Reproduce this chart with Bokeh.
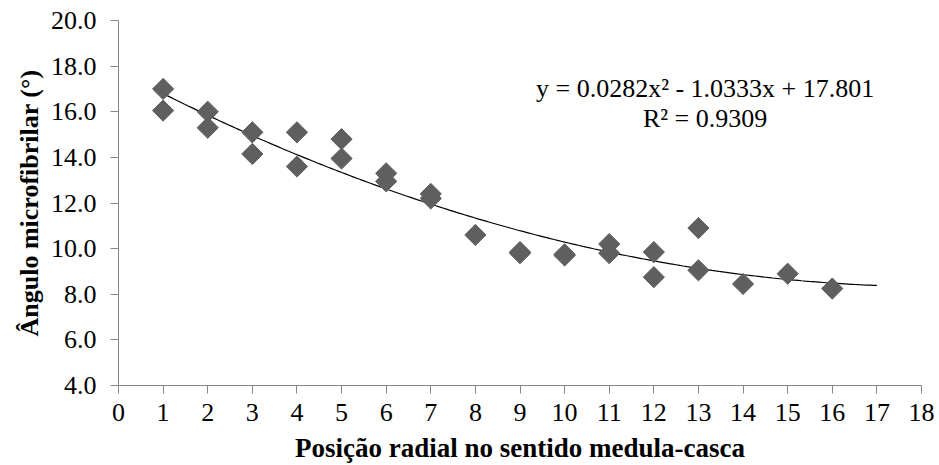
from bokeh.plotting import figure
from bokeh.models import Range1d, FixedTicker, Label, CustomJSTickFormatter
from bokeh.embed import file_html
from bokeh.resources import INLINE
import numpy as np

# Data
pos_x = [1, 1, 2, 2, 3, 3, 4, 4, 5, 5, 6, 6, 7, 7, 8, 9, 9, 10, 10, 11, 11, 12, 12, 13, 13, 14, 15, 16]
angle_y = [17.0, 16.05, 16.0, 15.3, 15.1, 14.15, 15.1, 13.6, 14.8, 13.95, 13.3, 12.95,
           12.4, 12.2, 10.6, 9.85, 9.8, 9.75, 9.7, 10.2, 9.8, 9.85, 8.75, 10.9, 9.05, 8.45, 8.9, 8.25]
coef_a, coef_b, coef_c = 0.0282, -1.0333, 17.801
x_ticks = list(range(0, 19))
y_ticks = [4, 6, 8, 10, 12, 14, 16, 18, 20]
eq_text = "y = 0.0282x\u00b2 - 1.0333x + 17.801"
r2_text = "R\u00b2 = 0.9309"
x_title = "Posição radial no sentido medula-casca"
y_title = "Ângulo microfibrilar (°)"

FONT = "'Liberation Serif', 'Times New Roman', serif"
AX = "#868686"

p = figure(width=939, height=465, output_backend="svg", toolbar_location=None,
           x_range=Range1d(0, 18), y_range=Range1d(4, 20),
           min_border_left=118, min_border_right=18, min_border_top=20, min_border_bottom=80)
p.outline_line_color = None
p.xgrid.grid_line_color = None
p.ygrid.grid_line_color = None
p.background_fill_color = "white"
p.border_fill_color = "white"

# trend line
tx = np.linspace(1, 17, 200)
ty = coef_a * tx**2 + coef_b * tx + coef_c
p.line(tx, ty, line_color="black", line_width=1.2)

p.scatter(pos_x, angle_y, marker="square", size=15, angle=np.pi / 4,
          fill_color="#5f5f5f", line_color="#5f5f5f")

p.xaxis.ticker = FixedTicker(ticks=x_ticks)
p.yaxis.ticker = FixedTicker(ticks=y_ticks)
p.yaxis.formatter = CustomJSTickFormatter(code="return tick.toFixed(1);")

for ax in (p.xaxis, p.yaxis):
    ax.axis_line_color = AX
    ax.major_tick_line_color = AX
    ax.minor_tick_line_color = None
    ax.major_tick_in = 0
    ax.major_tick_out = 8
    ax.major_label_text_font = FONT
    ax.major_label_text_font_size = "26px"
    ax.major_label_text_color = "black"
    ax.axis_label_text_font = FONT
    ax.axis_label_text_font_style = "bold"
    ax.axis_label_text_color = "black"

p.xaxis.axis_label = x_title
p.xaxis.axis_label_text_font_size = "27px"
p.xaxis.major_label_standoff = 10
p.xaxis.axis_label_standoff = 9

p.yaxis.axis_label = y_title
p.yaxis.axis_label_text_font_size = "26px"
p.yaxis.major_label_standoff = 14
p.yaxis.axis_label_standoff = 4

p.add_layout(Label(x=13.15, y=17.0, text=eq_text, text_font=FONT, text_font_size="26px",
                   text_align="center", text_baseline="middle", text_color="black"))
p.add_layout(Label(x=13.15, y=15.7, text=r2_text, text_font=FONT, text_font_size="26px",
                   text_align="center", text_baseline="middle", text_color="black"))

open("out.html", "w").write(file_html(p, INLINE))
